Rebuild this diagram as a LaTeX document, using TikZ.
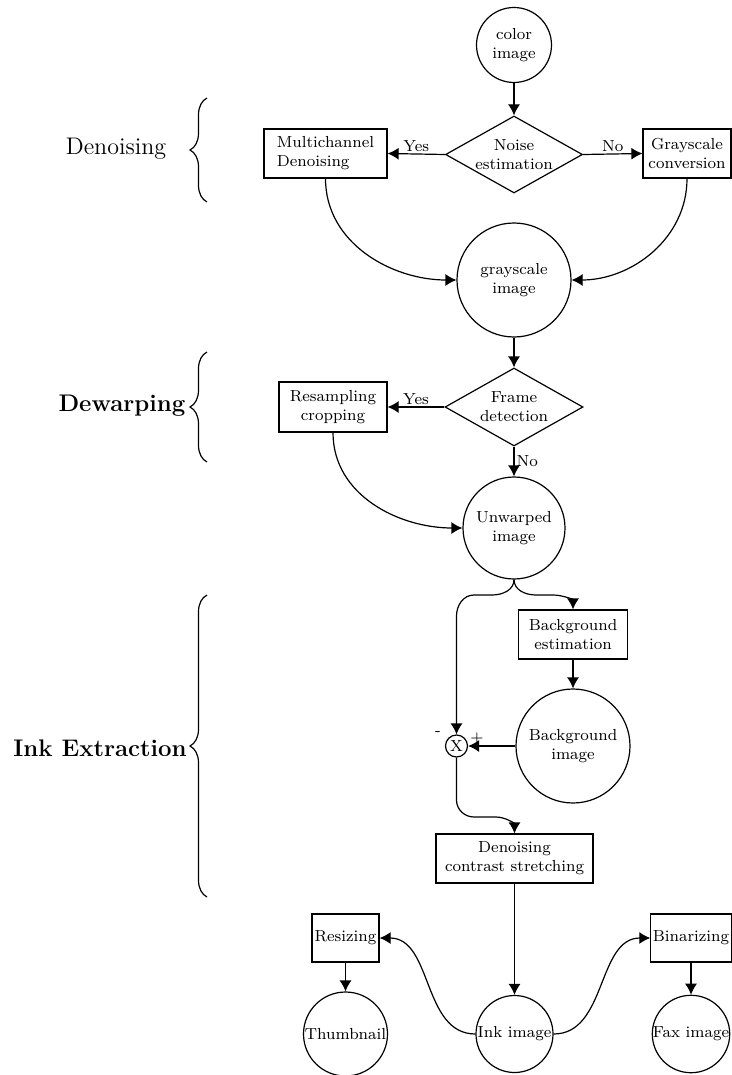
\documentclass[tikz,border=0pt]{standalone}
\usetikzlibrary{shapes.geometric,arrows.meta,decorations.pathreplacing}
\begin{document}
\begin{tikzpicture}[x=0.5pt,y=-0.5pt,
  every path/.style={line width=0.6pt},
  circ/.style={circle, draw, line width=0.6pt, inner sep=0pt, font=\footnotesize, align=center},
  box/.style={rectangle, draw, line width=0.6pt, inner sep=1pt, font=\footnotesize, align=center},
  dia/.style={diamond, draw, line width=0.6pt, aspect=1.78, inner sep=0pt, font=\footnotesize, align=center},
  arr/.style={-{Latex[length=5.5pt,width=6pt]}, line width=0.6pt},
  lbl/.style={font=\footnotesize, inner sep=1pt},
  sect/.style={font=\large, inner sep=0pt},
  brc/.style={decorate, decoration={brace, amplitude=8.5pt}, line width=0.6pt}]
\useasboundingbox (0,0) rectangle (732,1075);

% nodes
\node[circ, minimum size=37.5pt] (color) at (514,45) {color\\image};
\node[dia, minimum width=68.5pt, minimum height=38.5pt] (noise) at (514,154.5) {Noise\\estimation};
\node[box, minimum width=61.5pt, minimum height=24.5pt, align=left] (multi) at (325.5,153.5) {Multichannel\\Denoising};
\node[box, minimum width=44pt, minimum height=24.5pt] (gconv) at (687,153.5) {Grayscale\\conversion};
\node[circ, minimum size=57pt] (gray) at (514,280) {grayscale\\image};
\node[dia, minimum width=69pt, minimum height=39pt] (frame) at (514,407) {Frame\\detection};
\node[box, minimum width=54pt, minimum height=25pt] (resamp) at (333,407) {Resampling\\cropping};
\node[circ, minimum size=51pt] (unw) at (514,528) {Unwarped\\image};
\node[box, minimum width=54.5pt, minimum height=24.5pt] (bgest) at (573,634.5) {Background\\estimation};
\node[circ, minimum size=57pt] (bgimg) at (573,746) {Background\\image};
\node[circ, minimum size=11pt] (xop) at (456.5,746) {X};
\node[box, minimum width=78.5pt, minimum height=24.5pt] (dc) at (514.5,858.5) {Denoising\\contrast stretching};
\node[box, minimum width=33.5pt, minimum height=24pt] (resiz) at (345.5,938) {Resizing};
\node[box, minimum width=40pt, minimum height=24pt] (binar) at (691,938) {Binarizing};
\node[circ, minimum size=38.5pt] (ink) at (514.5,1034) {Ink image};
\node[circ, minimum size=42pt] (thumb) at (345.5,1034) {Thumbnail};
\node[circ, minimum size=38pt] (fax) at (691,1034) {Fax image};

% section labels and braces
\node[sect] (tden) at (116,149) {Denoising};
\node[sect, font=\large\bfseries] (tdew) at (122,406) {Dewarping};
\node[sect, font=\large\bfseries] (tink) at (100,748) {Ink Extraction};
\coordinate (b1a) at (207,202); \coordinate (b1b) at (207,98);
\coordinate (b2a) at (207,462); \coordinate (b2b) at (207,352);
\coordinate (b3a) at (207,897); \coordinate (b3b) at (207,595);
\draw[brc] (b1a) -- (b1b);
\draw[brc] (b2a) -- (b2b);
\draw[brc] (b3a) -- (b3b);

% connectors
\draw[arr] (color) -- (noise);
\draw[arr] (noise.west) -- node[lbl, above] {Yes} (multi.east);
\draw[arr] (noise.east) -- node[lbl, above] {No} (gconv.west);
\draw[arr] (multi.south) to[out=-90,in=180] (gray.west);
\draw[arr] (gconv.south) to[out=-90,in=0] (gray.east);
\draw[arr] (gray) -- (frame);
\draw[arr] (frame.west) -- node[lbl, above] {Yes} (resamp.east);
\draw[arr] (frame.south) -- node[lbl, right] {No} (unw.north);
\draw[arr] (resamp.south) to[out=-90,in=180] (unw.west);

\coordinate (s1) at (492,595);
\coordinate (s2) at (474,595);
\coordinate (s3) at (456.5,616);
\coordinate (r1) at (536,595);
\coordinate (r2) at (553,595);
\draw[arr] (unw.south) to[out=-90,in=0] (s1) -- (s2) to[out=180,in=90] (s3) -- (xop.north);
\draw[arr] (unw.south) to[out=-90,in=180] (r1) -- (r2) to[out=0,in=90] (bgest.north);
\draw[arr] (bgest) -- (bgimg);
\draw[arr] (bgimg.west) -- (xop.east);
\node[lbl] (minus) at (438,734) {-};
\node[lbl] (plus) at (477,738) {+};

\coordinate (d1) at (456.5,800);
\coordinate (d2) at (474,817);
\coordinate (d3) at (496,817);
\draw[arr] (xop.south) -- (d1) to[out=-90,in=180] (d2) -- (d3) to[out=0,in=90] (dc.north);

\draw[arr] (dc) -- (ink);
\draw[arr] (ink.west) to[out=180,in=0] (resiz.east);
\draw[arr] (ink.east) to[out=0,in=180] (binar.west);
\draw[arr] (resiz) -- (thumb);
\draw[arr] (binar) -- (fax);
\end{tikzpicture}
\end{document}
